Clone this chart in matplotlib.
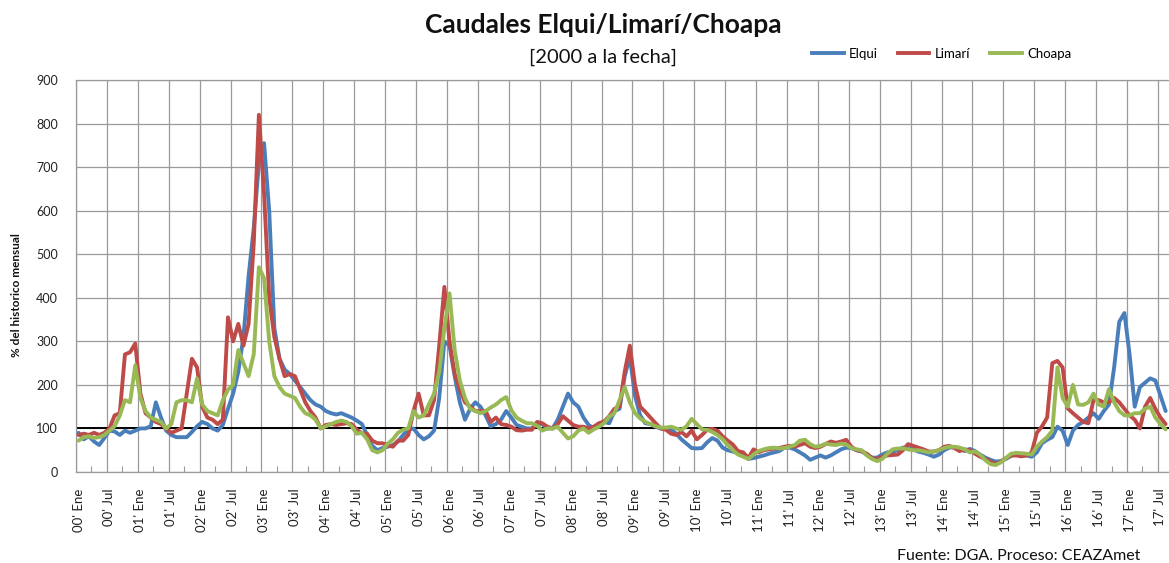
import matplotlib
matplotlib.use("Agg")
import matplotlib.pyplot as plt
from matplotlib.lines import Line2D
import numpy as np

plt.rcParams['font.family'] = ['Lato', 'DejaVu Sans']

# ---------------- data (% del histórico mensual, monthly from Jan 2000) -------------
tick_labels = []
for yy in range(18):
    tick_labels.append(f"{yy:02d}' Ene")
    tick_labels.append(f"{yy:02d}' Jul")

elqui = [
    90, 75, 82, 70, 62, 78, 95, 93, 85, 95, 90, 95,
    100, 100, 105, 160, 125, 95, 85, 80, 80, 80, 92, 105,
    115, 110, 100, 95, 108, 145, 180, 230, 310, 450, 560, 710,
    755, 600, 330, 260, 235, 225, 210, 195, 180, 165, 155, 150,
    140, 135, 132, 135, 130, 125, 118, 110, 85, 60, 50, 55,
    58, 62, 70, 85, 97, 100, 85, 75, 82, 95, 170, 300,
    290, 220, 160, 120, 145, 160, 150, 130, 105, 110, 120, 140,
    125, 108, 104, 100, 100, 112, 110, 100, 100, 120, 150, 180,
    160, 150, 125, 108, 100, 105, 115, 112, 140, 145, 220, 265,
    175, 130, 112, 110, 104, 100, 100, 98, 88, 75, 65, 55,
    54, 55, 68, 78, 72, 56, 50, 47, 43, 40, 30, 32,
    35, 38, 42, 45, 48, 56, 56, 52, 45, 38, 28, 33,
    38, 33, 38, 45, 52, 56, 55, 50, 47, 40, 33, 33,
    40, 45, 47, 50, 56, 55, 52, 47, 44, 40, 35,
    40, 50, 56, 57, 55, 48, 53, 48, 40, 33, 28, 24,
    25, 30, 37, 40, 38, 38, 35, 45, 66, 74, 80, 104,
    95, 62, 95, 108, 115, 125, 135, 122, 140, 155, 240, 345,
    365, 270, 150, 195, 205, 215, 210, 175, 140,
]

limari = [
    85, 88, 85, 90, 85, 90, 100, 130, 135, 270, 275, 295,
    180, 135, 125, 115, 110, 100, 90, 95, 100, 180, 260, 240,
    150, 125, 120, 110, 120, 355, 300, 340, 290, 340, 525, 820,
    640, 400, 310, 260, 220, 225, 220, 190, 160, 140, 125, 100,
    108, 110, 108, 110, 112, 110, 97, 89, 88, 72, 66, 66,
    62, 58, 72, 72, 85, 140, 180, 130, 130, 165, 290, 425,
    300, 225, 190, 160, 150, 140, 140, 140, 115, 125, 110, 108,
    104, 96, 95, 97, 97, 115, 112, 104, 100, 110, 128, 118,
    108, 104, 104, 100, 104, 112, 116, 128, 145, 150, 230, 290,
    200, 150, 138, 125, 112, 100, 97, 88, 85, 92, 82, 95,
    75, 85, 97, 99, 95, 82, 72, 63, 48, 45, 32, 52,
    45, 50, 52, 54, 55, 58, 60, 58, 62, 66, 58, 55,
    58, 64, 70, 67, 70, 74, 58, 50, 48, 42, 32, 30,
    35, 38, 39, 40, 50, 64, 60, 56, 52, 47, 47,
    50, 58, 60, 55, 48, 52, 50, 42, 35, 30, 24, 18,
    24, 32, 38, 38, 36, 38, 45, 90, 105, 125, 250, 255,
    240, 146, 135, 125, 115, 112, 165, 165, 160, 160, 170, 160,
    145, 130, 120, 100, 150, 170, 145, 125, 110,
]

choapa = [
    72, 80, 82, 78, 80, 85, 95, 105, 130, 165, 160, 245,
    170, 140, 125, 120, 115, 100, 110, 160, 165, 165, 160, 215,
    155, 140, 135, 130, 165, 189, 200, 280, 250, 220, 270, 470,
    445, 300, 220, 195, 180, 175, 170, 150, 135, 130, 120, 100,
    105, 110, 115, 118, 115, 105, 88, 90, 75, 50, 45, 50,
    65, 75, 90, 97, 100, 140, 125, 130, 155, 180, 230, 330,
    410, 280, 210, 170, 145, 140, 135, 140, 148, 155, 165, 172,
    142, 125, 118, 112, 112, 106, 95, 100, 100, 104, 90, 77,
    82, 95, 100, 90, 98, 104, 112, 127, 135, 165, 195, 160,
    135, 123, 115, 110, 105, 102, 102, 104, 100, 97, 105, 122,
    110, 98, 97, 92, 85, 75, 62, 50, 40, 35, 30, 40,
    48, 52, 55, 56, 54, 55, 58, 62, 72, 74, 64, 58,
    60, 65, 63, 62, 65, 63, 55, 52, 50, 38, 30, 25,
    30, 42, 52, 54, 54, 52, 50, 50, 48, 45, 47,
    50, 55, 58, 58, 56, 52, 45, 47, 40, 27, 18, 16,
    22, 32, 42, 44, 43, 42, 40, 58, 70, 80, 95, 240,
    170, 150, 200, 155, 154, 160, 180, 155, 150, 190, 160, 140,
    130, 130, 135, 135, 145, 150, 125, 110, 98,
]

series_names = ['Elqui', 'Limarí', 'Choapa']
series_colors = ['#4a7ebb', '#be4b48', '#98b954']

# ---------------- figure -------------
W, H = 1169, 563
fig = plt.figure(figsize=(W / 100, H / 100), dpi=100)
left_px, right_px, top_px, bot_px = 76, 1169, 80, 472
ax = fig.add_axes([left_px / W, 1 - bot_px / H, (right_px - left_px) / W, (bot_px - top_px) / H])

n = len(elqui)
x = np.arange(n)
month_px = 5.152

grid_col = '#9a9a9a'
for b in np.arange(-0.5, n + 1, 6):
    ax.axvline(b, color=grid_col, lw=0.9, zorder=0)
ax.set_yticks(range(0, 901, 100))
ax.yaxis.grid(True, color=grid_col, lw=0.9, zorder=0)
ax.set_axisbelow(True)

ax.axhline(100, color='black', lw=1.4, zorder=2)

for vals, name, col in zip([elqui, limari, choapa], series_names, series_colors):
    ax.plot(x, vals, color=col, lw=2.8, label=name, zorder=3,
            solid_joinstyle='round', solid_capstyle='round')

ax.set_ylim(0, 900)
ax.set_xlim(-0.5, -0.5 + (right_px - left_px) / month_px)

ax.set_xticks(np.arange(0, n, 6))
ax.set_xticklabels(tick_labels[:len(np.arange(0, n, 6))], rotation=90, fontsize=9.5, color='#222222')
ax.set_xticks(np.arange(2.5, n, 6), minor=True)
ax.tick_params(axis='x', which='major', length=0, pad=12)
ax.tick_params(axis='x', which='minor', direction='in', length=4, color=grid_col, width=0.8)
ax.tick_params(axis='y', length=0, pad=13, labelsize=9, labelcolor='#222222')

for s in ['left', 'bottom', 'top']:
    ax.spines[s].set_color(grid_col)
    ax.spines[s].set_linewidth(0.9)
ax.spines['right'].set_visible(False)

fig.text(17 / W, 1 - 295 / H, '% del historico mensual', rotation=90, ha='center', va='center',
         fontsize=8.5, fontweight='bold', color='#111111')

fig.text(603 / W, 1 - 25 / H, 'Caudales Elqui/Limarí/Choapa', ha='center', va='center',
         fontsize=19, fontweight='bold', color='#111111')
fig.text(603 / W, 1 - 57 / H, '[2000 a la fecha]', ha='center', va='center',
         fontsize=14.5, color='#111111')

handles = [Line2D([0], [0], color=c, lw=2.8) for c in series_colors]
fig.legend(handles, series_names, loc='center left', bbox_to_anchor=(812 / W, 1 - 54 / H),
           ncol=3, frameon=False, fontsize=9.5, handlelength=2.4, handletextpad=0.4,
           columnspacing=1.5, borderpad=0, borderaxespad=0)

fig.text(1140 / W, 1 - 556 / H, 'Fuente: DGA. Proceso: CEAZAmet', ha='right', va='center',
         fontsize=11.5, color='#111111')

fig.savefig('out.png', dpi=100)
